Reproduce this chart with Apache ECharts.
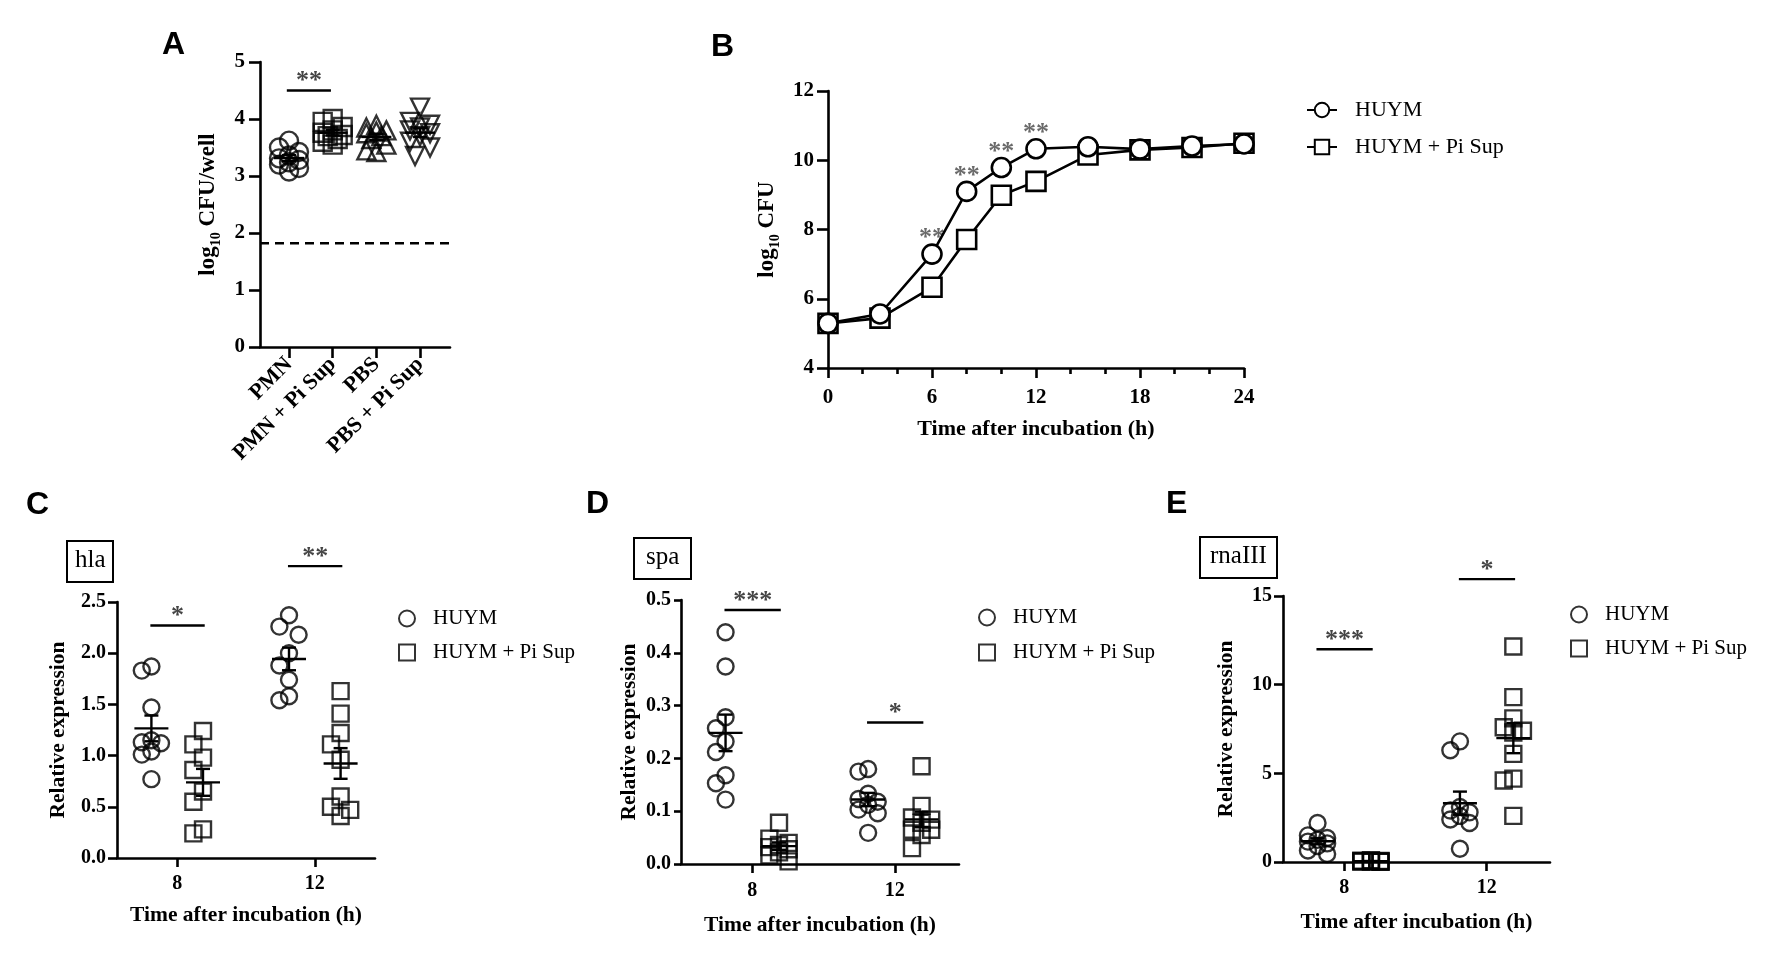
<!DOCTYPE html>
<html>
<head>
<meta charset="utf-8">
<script src="https://cdn.jsdelivr.net/npm/echarts@6/dist/echarts.min.js"></script>
<style>
  html, body { margin: 0; padding: 0; background: #fff; }
  #main { width: 1775px; height: 954px; }
</style>
</head>
<body>
<div id="main"></div>
<script>
// ---------- data ----------
// A: log10 CFU/well per group
var aCats = ['PMN', 'PMN + Pi Sup', 'PBS', 'PBS + Pi Sup'];
var aPmn = [3.62, 3.5, 3.42, 3.36, 3.31, 3.28, 3.24, 3.2, 3.14, 3.08];
var aPmnSup = [4.0, 3.95, 3.86, 3.8, 3.76, 3.72, 3.7, 3.65, 3.6, 3.55];
var aPbs = [3.9, 3.85, 3.8, 3.78, 3.75, 3.7, 3.65, 3.55, 3.45, 3.42];
var aPbsSup = [4.2, 3.95, 3.9, 3.85, 3.8, 3.75, 3.7, 3.6, 3.5, 3.35];
var aLimit = 1.82;          // detection limit (dashed line)
var aSig = [[0, 1, 4.5, '**']];

// B: growth curve
var bTime = [0, 3, 6, 8, 10, 12, 15, 18, 21, 24];
var bHuym = [5.29, 5.56, 7.29, 9.1, 9.79, 10.33, 10.39, 10.32, 10.41, 10.47];
var bSup = [5.29, 5.44, 6.33, 7.71, 8.99, 9.39, 10.15, 10.3, 10.37, 10.49];
var bSigTime = [6, 8, 10, 12];

// C/D/E: relative expression at 8 h and 12 h
var cdeTimes = [8, 12];
var hlaHuym8 = [1.87, 1.83, 1.47, 1.15, 1.13, 1.12, 1.04, 1.01, 0.77];
var hlaSup8 = [1.24, 1.11, 0.98, 0.86, 0.65, 0.55, 0.28, 0.24];
var hlaHuym12 = [2.37, 2.26, 2.18, 2.0, 1.88, 1.74, 1.58, 1.54];
var hlaSup12 = [1.63, 1.41, 1.22, 1.11, 0.96, 0.6, 0.5, 0.47, 0.41];
var hlaSig = [[8, 2.27, '*'], [12, 2.85, '**']];

var spaHuym8 = [0.439, 0.374, 0.278, 0.257, 0.232, 0.212, 0.168, 0.153, 0.122];
var spaSup8 = [0.078, 0.048, 0.04, 0.036, 0.032, 0.028, 0.022, 0.016, 0.005];
var spaHuym12 = [0.18, 0.175, 0.133, 0.123, 0.118, 0.112, 0.103, 0.096, 0.059];
var spaSup12 = [0.185, 0.11, 0.088, 0.084, 0.078, 0.065, 0.065, 0.055, 0.03];
var spaSig = [[8, 0.481, '***'], [12, 0.268, '*']];

var rnaHuym8 = [2.2, 1.5, 1.35, 1.25, 1.15, 1.05, 0.9, 0.65, 0.45];
var rnaSup8 = [0.1, 0.08, 0.06, 0.05, 0.04, 0.03, 0.02, 0.02, 0.01];
var rnaHuym12 = [6.8, 6.3, 3.1, 2.9, 2.8, 2.6, 2.4, 2.2, 0.75];
var rnaSup12 = [12.15, 9.3, 8.1, 7.6, 7.4, 7.3, 6.1, 4.7, 4.6, 2.6];
var rnaSig = [[8, 12.0, '***'], [12, 15.95, '*']];

// ---------- layout ----------
var grids = [
  { left: 260, top: 62, width: 190, height: 285, x: [-0.664, 3.686], y: [0, 5] },     // A
  { left: 828, top: 91, width: 416, height: 277, x: [0, 24], y: [4, 12] },            // B
  { left: 117, top: 602, width: 258, height: 256, x: [6.25, 13.75], y: [0, 2.5] },    // C
  { left: 681, top: 600, width: 278, height: 264, x: [6.0, 13.8], y: [0, 0.5] },      // D
  { left: 1283, top: 596, width: 267, height: 266, x: [6.28, 13.78], y: [0, 15] }     // E
];
var serif = 'Liberation Serif';
var black = '#000';
var starColor = '#454545';

var chart = echarts.init(document.getElementById('main'));

// simple dodge so that the dots of a group do not sit on top of each other
function swarm(vals, g, step, size, maxK) {
  var yu = g.height / (g.y[1] - g.y[0]);
  var xu = g.width / (g.x[1] - g.x[0]);
  var placed = [];
  return vals.map(function (v) {
    var best = 0, bestD = -1;
    for (var i = 0; i <= 2 * maxK; i++) {
      var k = i === 0 ? 0 : (i % 2 ? -(i + 1) / 2 : i / 2);
      var dmin = Infinity;
      placed.forEach(function (p) {
        dmin = Math.min(dmin, Math.hypot((k - p.k) * step, (v - p.v) * yu));
      });
      if (dmin >= size) { best = k; bestD = dmin; break; }
      if (dmin > bestD) { bestD = dmin; best = k; }
    }
    placed.push({ k: best, v: v });
    return best * step / xu;
  });
}

function mean(a) { return a.reduce(function (s, v) { return s + v; }, 0) / a.length; }
function sem(a) {
  var m = mean(a);
  var ss = a.reduce(function (s, v) { return s + (v - m) * (v - m); }, 0);
  return Math.sqrt(ss / (a.length - 1)) / Math.sqrt(a.length);
}

function dots(name, gi, center, vals, symbol, rot, size, step, maxK) {
  var offs = swarm(vals, grids[gi], step, size, maxK);
  return {
    type: 'scatter', name: name, xAxisIndex: gi, yAxisIndex: gi,
    symbol: symbol, symbolRotate: rot, symbolSize: size, silent: true, z: 3,
    itemStyle: { color: 'rgba(0,0,0,0)', borderColor: black, borderWidth: 2.4 },
    data: vals.map(function (v, i) { return [center + offs[i], v]; })
  };
}

function meanSem(gi, groups, half, cap) {
  return {
    type: 'custom', xAxisIndex: gi, yAxisIndex: gi, silent: true, z: 4, clip: false,
    data: groups.map(function (g) { return [g[0], mean(g[1]), sem(g[1])]; }),
    renderItem: function (params, api) {
      var x = api.value(0), m = api.value(1), s = api.value(2);
      var c = api.coord([x, m]), t = api.coord([x, m + s]), b = api.coord([x, m - s]);
      var st = { stroke: black, lineWidth: 2.4 };
      return { type: 'group', children: [
        { type: 'line', shape: { x1: c[0] - half, y1: c[1], x2: c[0] + half, y2: c[1] }, style: st },
        { type: 'line', shape: { x1: c[0], y1: t[1], x2: c[0], y2: b[1] }, style: st },
        { type: 'line', shape: { x1: c[0] - cap, y1: t[1], x2: c[0] + cap, y2: t[1] }, style: st },
        { type: 'line', shape: { x1: c[0] - cap, y1: b[1], x2: c[0] + cap, y2: b[1] }, style: st }
      ] };
    }
  };
}

// bars: [x1, x2, y, text]
function sigBars(gi, bars) {
  return {
    type: 'custom', xAxisIndex: gi, yAxisIndex: gi, silent: true, z: 5, clip: false,
    data: bars.map(function (b) { return [b[0], b[1], b[2]]; }),
    renderItem: function (params, api) {
      var p1 = api.coord([api.value(0), api.value(2)]);
      var p2 = api.coord([api.value(1), api.value(2)]);
      return { type: 'group', children: [
        { type: 'line', shape: { x1: p1[0], y1: p1[1], x2: p2[0], y2: p2[1] },
          style: { stroke: black, lineWidth: 2.4 } },
        { type: 'text', style: { text: bars[params.dataIndex][3], x: (p1[0] + p2[0]) / 2, y: p1[1] + 4,
          align: 'center', verticalAlign: 'bottom', fontFamily: serif, fontWeight: 'bold',
          fontSize: 26, fill: starColor } }
      ] };
    }
  };
}

function timeSig(list) {
  return list.map(function (s) { return [s[0] - 0.78, s[0] + 0.8, s[1], s[2]]; });
}

var labelStyle = { color: black, fontFamily: serif, fontWeight: 'bold', fontSize: 20 };
var nameStyle = { color: black, fontFamily: serif, fontWeight: 'bold', fontSize: 21.5 };
var logRich = {
  t: { color: black, fontFamily: serif, fontWeight: 'bold', fontSize: 23, lineHeight: 30 },
  s: { color: black, fontFamily: serif, fontWeight: 'bold', fontSize: 14, lineHeight: 14, verticalAlign: 'bottom' }
};

function axis(gi, extra) {
  var g = grids[gi];
  var isX = extra.dim === 'x';
  var o = {
    gridIndex: gi, type: 'value',
    min: isX ? g.x[0] : g.y[0], max: isX ? g.x[1] : g.y[1],
    axisLine: { show: true, onZero: false, lineStyle: { color: black, width: 2.6 } },
    axisTick: { show: true, inside: false, length: 10, lineStyle: { color: black, width: 2.6 } },
    splitLine: { show: false },
    axisLabel: Object.assign({ margin: 14 }, labelStyle),
    nameLocation: 'middle',
    nameTextStyle: nameStyle
  };
  Object.keys(extra).forEach(function (k) {
    if (k === 'dim') return;
    if (typeof extra[k] === 'object' && !Array.isArray(extra[k]) && o[k]) o[k] = Object.assign({}, o[k], extra[k]);
    else o[k] = extra[k];
  });
  return o;
}

var xAxes = [
  axis(0, { dim: 'x',
    axisTick: { customValues: [0, 1, 2, 3], length: 11 },
    axisLabel: { customValues: [0, 1, 2, 3], rotate: 45, fontSize: 22, margin: 14,
      formatter: function (v) { return aCats[Math.round(v)]; } } }),
  axis(1, { dim: 'x', interval: 6, name: 'Time after incubation (h)', nameGap: 50,
    nameTextStyle: Object.assign({}, nameStyle, { fontSize: 22 }),
    axisLabel: { margin: 19, fontSize: 21 },
    minorTick: { show: true, splitNumber: 3, length: 6, lineStyle: { color: black, width: 2.6 } } }),
  axis(2, { dim: 'x', name: 'Time after incubation (h)', nameGap: 46,
    axisTick: { customValues: cdeTimes, length: 9 }, axisLabel: { customValues: cdeTimes, margin: 16 } }),
  axis(3, { dim: 'x', name: 'Time after incubation (h)', nameGap: 50,
    axisTick: { customValues: cdeTimes, length: 9 }, axisLabel: { customValues: cdeTimes, margin: 17 } }),
  axis(4, { dim: 'x', name: 'Time after incubation (h)', nameGap: 49,
    axisTick: { customValues: cdeTimes, length: 9 }, axisLabel: { customValues: cdeTimes, margin: 16 } })
];

var yAxes = [
  axis(0, { dim: 'y', interval: 1, name: '{t|log}{s|10}{t| CFU/well}', nameGap: 37,
    nameTextStyle: Object.assign({}, nameStyle, { rich: logRich }),
    axisTick: { length: 11 }, axisLabel: { margin: 15, fontSize: 21 } }),
  axis(1, { dim: 'y', interval: 2, name: '{t|log}{s|10}{t| CFU}', nameGap: 46,
    nameTextStyle: Object.assign({}, nameStyle, { rich: logRich }),
    axisTick: { length: 11 }, axisLabel: { margin: 14, fontSize: 21 } }),
  axis(2, { dim: 'y', interval: 0.5, name: 'Relative expression', nameGap: 48, axisTick: { length: 9 },
    axisLabel: { formatter: function (v) { return v.toFixed(1); }, margin: 11 } }),
  axis(3, { dim: 'y', interval: 0.1, name: 'Relative expression', nameGap: 41, axisTick: { length: 7 },
    axisLabel: { formatter: function (v) { return v.toFixed(1); }, margin: 10 } }),
  axis(4, { dim: 'y', interval: 5, name: 'Relative expression', nameGap: 46, axisTick: { length: 9 },
    axisLabel: { margin: 11 } })
];

var series = [];

// ---- A ----
var aGroups = [aPmn, aPmnSup, aPbs, aPbsSup];
var aSymbols = [['circle', 0], ['rect', 0], ['triangle', 0], ['triangle', 180]];
aGroups.forEach(function (vals, i) {
  series.push(dots('A|' + aCats[i], 0, i, vals, aSymbols[i][0], aSymbols[i][1], 18, 5, 2));
});
series.push(meanSem(0, aGroups.map(function (v, i) { return [i, v]; }), 15, 7));
series.push(sigBars(0, aSig.map(function (s) { return [s[0] - 0.05, s[1] - 0.04, s[2], s[3]]; })));
series.push({
  type: 'line', xAxisIndex: 0, yAxisIndex: 0, silent: true, symbol: 'none',
  lineStyle: { color: black, width: 2.6, type: [9, 6] },
  data: [[grids[0].x[0], aLimit], [grids[0].x[1], aLimit]]
});

// ---- B ----
function curve(name, vals, symbol) {
  return {
    type: 'line', name: name, xAxisIndex: 1, yAxisIndex: 1, silent: true,
    symbol: symbol, symbolSize: 19, showAllSymbol: true,
    lineStyle: { color: black, width: 2.6 },
    itemStyle: { color: '#fff', borderColor: black, borderWidth: 2.6 },
    data: bTime.map(function (t, i) { return [t, vals[i]]; })
  };
}
series.push(curve('B|HUYM + Pi Sup', bSup, 'rect'));
series.push(curve('B|HUYM', bHuym, 'circle'));
series.push({
  type: 'scatter', xAxisIndex: 1, yAxisIndex: 1, silent: true, symbolSize: 1,
  itemStyle: { color: 'rgba(0,0,0,0)' },
  label: { show: true, position: 'top', distance: 2, formatter: '**',
    fontFamily: serif, fontWeight: 'bold', fontSize: 26, color: starColor },
  data: bSigTime.map(function (t) { return [t, bHuym[bTime.indexOf(t)]]; })
});

// ---- C, D, E ----
function exprPanel(gi, tag, h8, s8, h12, s12, sig) {
  var side = 0.75;
  series.push(dots(tag + '|HUYM', gi, cdeTimes[0] - side, h8, 'circle', 0, 16, 9.6, 1));
  series.push(dots(tag + '|HUYM + Pi Sup', gi, cdeTimes[0] + side, s8, 'rect', 0, 16, 9.6, 1));
  series.push(dots(tag + '|HUYM', gi, cdeTimes[1] - side, h12, 'circle', 0, 16, 9.6, 1));
  series.push(dots(tag + '|HUYM + Pi Sup', gi, cdeTimes[1] + side, s12, 'rect', 0, 16, 9.6, 1));
  series.push(meanSem(gi, [[cdeTimes[0] - side, h8], [cdeTimes[0] + side, s8],
    [cdeTimes[1] - side, h12], [cdeTimes[1] + side, s12]], 17, 7));
  series.push(sigBars(gi, timeSig(sig)));
}
exprPanel(2, 'C', hlaHuym8, hlaSup8, hlaHuym12, hlaSup12, hlaSig);
exprPanel(3, 'D', spaHuym8, spaSup8, spaHuym12, spaSup12, spaSig);
exprPanel(4, 'E', rnaHuym8, rnaSup8, rnaHuym12, rnaSup12, rnaSig);

function legend(tag, left, top, iw, ih, gap, fs, pad) {
  return {
    orient: 'vertical', left: left, top: top, padding: 0, itemGap: gap,
    itemWidth: iw, itemHeight: ih, selectedMode: false,
    data: [tag + '|HUYM', tag + '|HUYM + Pi Sup'],
    formatter: function (n) { return n.split('|')[1]; },
    textStyle: { fontFamily: serif, fontSize: fs, color: black, padding: [0, 0, 0, pad] }
  };
}

function letter(t, left, top) {
  return { text: t, left: left, top: top, padding: 0,
    textStyle: { fontFamily: 'Liberation Sans', fontWeight: 'bold', fontSize: 32, color: black } };
}
function gene(t, left, top, padX) {
  return { text: t, left: left, top: top, padding: [7, padX, 9, padX],
    borderColor: black, borderWidth: 2,
    textStyle: { fontFamily: serif, fontWeight: 'normal', fontSize: 25, color: black } };
}

chart.setOption({
  animation: false,
  backgroundColor: '#fff',
  title: [
    letter('A', 162, 29), letter('B', 711, 31), letter('C', 26, 489),
    letter('D', 586, 488), letter('E', 1166, 488),
    gene('hla', 67, 541, 8), gene('spa', 634, 538, 12), gene('rnaIII', 1200, 537, 10)
  ],
  legend: [
    legend('B', 1306, 99, 30, 18, 15, 22, 13),
    legend('C', 398, 608, 16, 16, 13, 21, 13),
    legend('D', 978, 607, 16, 16, 14, 21, 13),
    legend('E', 1570, 604, 16, 16, 13, 21, 13)
  ],
  grid: grids.map(function (g) {
    return { left: g.left, top: g.top, width: g.width, height: g.height, containLabel: false };
  }),
  xAxis: xAxes,
  yAxis: yAxes,
  series: series
});
</script>
</body>
</html>
